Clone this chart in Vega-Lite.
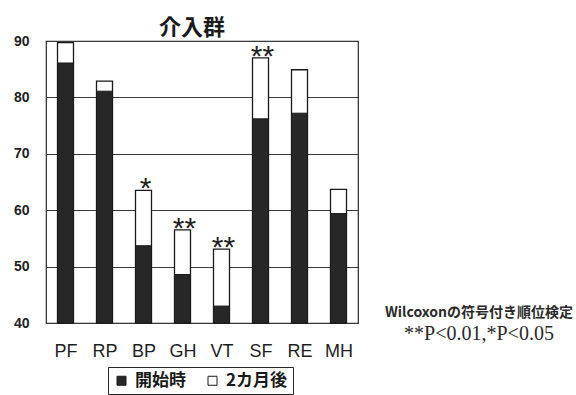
{
  "$schema": "https://vega.github.io/schema/vega-lite/v6.json",
  "background": "white",
  "padding": {"left": 5, "top": 16, "right": 0, "bottom": 0},
  "spacing": 20,
  "hconcat": [
    {
      "width": 312,
      "height": 282,
      "title": {
        "text": "介入群",
        "font": "Noto Sans CJK JP",
        "fontSize": 22,
        "fontWeight": "bold",
        "color": "#1a1a1a",
        "dx": -10,
        "offset": -6
      },
      "view": {"stroke": "#2a2a2a", "strokeWidth": 1.2},
      "data": {
        "values": [
          {"item": "PF", "time": "開始時", "value": 86.1},
          {"item": "PF", "time": "2カ月後", "value": 89.7},
          {"item": "RP", "time": "開始時", "value": 81.1},
          {"item": "RP", "time": "2カ月後", "value": 82.9},
          {"item": "BP", "time": "開始時", "value": 53.7},
          {"item": "BP", "time": "2カ月後", "value": 63.5, "sig": "*"},
          {"item": "GH", "time": "開始時", "value": 48.6},
          {"item": "GH", "time": "2カ月後", "value": 56.5, "sig": "**"},
          {"item": "VT", "time": "開始時", "value": 43.0},
          {"item": "VT", "time": "2カ月後", "value": 53.1, "sig": "**"},
          {"item": "SF", "time": "開始時", "value": 76.2},
          {"item": "SF", "time": "2カ月後", "value": 87.0, "sig": "**"},
          {"item": "RE", "time": "開始時", "value": 77.2},
          {"item": "RE", "time": "2カ月後", "value": 84.9},
          {"item": "MH", "time": "開始時", "value": 59.4},
          {"item": "MH", "time": "2カ月後", "value": 63.7}
        ]
      },
      "encoding": {
        "x": {
          "field": "item",
          "type": "nominal",
          "sort": ["PF", "RP", "BP", "GH", "VT", "SF", "RE", "MH"],
          "scale": {"paddingInner": 0.59, "paddingOuter": 0.295},
          "axis": {
            "title": null,
            "labelAngle": 0,
            "labelFont": "Liberation Sans",
            "labelFontSize": 18,
            "labelColor": "#1e1e1e",
            "labelPadding": 23,
            "domain": false,
            "grid": false,
            "ticks": true,
            "tickBand": "extent",
            "tickSize": -4,
            "tickColor": "#555555",
            "tickWidth": 1
          }
        },
        "y": {
          "field": "value",
          "type": "quantitative",
          "scale": {"domain": [40, 90], "nice": false, "zero": false},
          "axis": {
            "title": null,
            "values": [40, 50, 60, 70, 80, 90],
            "grid": true,
            "gridColor": "#3a3a3a",
            "gridWidth": 1,
            "gridOpacity": 1,
            "domain": false,
            "ticks": false,
            "labelFont": "Liberation Sans",
            "labelFontSize": 14,
            "labelFontWeight": "bold",
            "labelColor": "#222222",
            "labelPadding": 17,
            "minExtent": 40,
            "maxExtent": 40
          }
        }
      },
      "layer": [
        {
          "transform": [{"filter": "datum.time === '2カ月後'"}],
          "mark": {"type": "bar", "stroke": "#1a1a1a", "strokeWidth": 1.3},
          "encoding": {
            "y2": {"datum": 40},
            "fill": {
              "field": "time",
              "type": "nominal",
              "scale": {"domain": ["開始時", "2カ月後"], "range": ["#272727", "#ffffff"]},
              "legend": {
                "orient": "none",
                "legendX": 62,
                "legendY": 326,
                "direction": "horizontal",
                "title": null,
                "strokeColor": "#2a2a2a",
                "padding": 5,
                "symbolType": "square",
                "symbolSize": 81,
                "symbolStrokeColor": "#1a1a1a",
                "symbolStrokeWidth": 1,
                "symbolOpacity": 1,
                "labelFont": "Noto Sans CJK JP",
                "labelFontSize": 17,
                "labelFontWeight": "bold",
                "labelColor": "#1a1a1a",
                "labelOffset": 5,
                "columnPadding": 18
              }
            }
          }
        },
        {
          "transform": [{"filter": "datum.time === '開始時'"}],
          "mark": {"type": "bar", "stroke": "#1a1a1a", "strokeWidth": 1},
          "encoding": {
            "y2": {"datum": 40},
            "fill": {"field": "time", "type": "nominal"}
          }
        },
        {
          "transform": [{"filter": "isValid(datum.sig)"}],
          "mark": {
            "type": "text",
            "font": "Liberation Sans",
            "fontSize": 30,
            "baseline": "alphabetic",
            "dy": 8,
            "dx": 2,
            "color": "#222222"
          },
          "encoding": {"text": {"field": "sig"}}
        }
      ]
    },
    {
      "width": 196,
      "height": 261,
      "view": {"stroke": null},
      "data": {"values": []},
      "mark": "point",
      "title": {
        "text": "Wilcoxonの符号付き順位検定",
        "subtitle": "**P<0.01,*P<0.05",
        "orient": "bottom",
        "anchor": "middle",
        "dx": 2,
        "offset": 4,
        "font": "Noto Sans CJK JP",
        "fontSize": 14,
        "fontWeight": "bold",
        "color": "#2a2a2a",
        "subtitleFont": "Liberation Serif",
        "subtitleFontSize": 20,
        "subtitleColor": "#2a2a2a",
        "subtitlePadding": 4
      }
    }
  ]
}
